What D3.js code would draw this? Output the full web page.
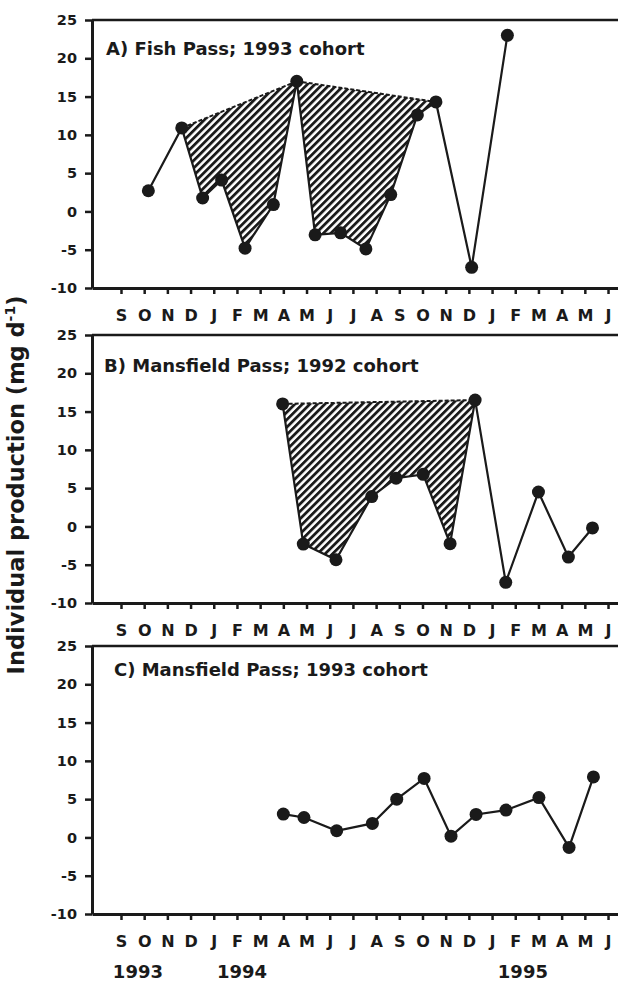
<!DOCTYPE html>
<html lang="en">
<head>
    <meta charset="utf-8">
    <title>Individual production</title>
    <script src="https://cdn.jsdelivr.net/npm/d3@7"></script>
    <style>
        body { margin: 0; background: #fff; }
        text { font-family: "DejaVu Sans", sans-serif; font-weight: bold; fill: #1a1a1a; }
    </style>
</head>
<body>
<div id="chart"></div>
<script>
    // month ticks, Sep 1993 .. Jun 1995 (index 0 = Sep 1993)
    var monthLabels = ["S","O","N","D","J","F","M","A","M","J","J","A","S","O","N","D","J","F","M","A","M","J"];
    var yTicks = [-10, -5, 0, 5, 10, 15, 20, 25];
    var yearLabels = ["1993", "1994", "1995"];
    var yearPos = [0.73, 5.22, 17.33];

    // A) Fish Pass; 1993 cohort
    var fishMonth = [1.18, 2.62, 3.52, 4.34, 5.35, 6.57, 7.58, 8.37, 9.47, 10.56, 11.63, 12.78, 13.58, 15.12, 16.66];
    var fishValue = [2.7, 10.9, 1.75, 4.1, -4.8, 0.9, 17.0, -3.05, -2.8, -4.9, 2.2, 12.6, 14.3, -7.3, 23.0];
    var fishShade = [[1, 6], [6, 12]];

    // B) Mansfield Pass; 1992 cohort
    var mp92Month = [6.97, 7.86, 9.27, 10.81, 11.86, 13.03, 14.19, 15.27, 16.59, 18.0, 19.29, 20.33];
    var mp92Value = [16.0, -2.3, -4.35, 3.9, 6.3, 6.8, -2.25, 16.5, -7.3, 4.5, -4.0, -0.2];
    var mp92Shade = [[0, 7]];

    // C) Mansfield Pass; 1993 cohort
    var mp93Month = [7.0, 7.89, 9.30, 10.84, 11.89, 13.07, 14.23, 15.31, 16.60, 18.02, 19.32, 20.37];
    var mp93Value = [3.05, 2.6, 0.87, 1.83, 5.0, 7.7, 0.17, 3.0, 3.57, 5.2, -1.3, 7.9];

    var w = 618, h = 983;
    var left = 92, right = 618;

    var panels = [
        {title: "A) Fish Pass; 1993 cohort", top: 20, bottom: 288, tx: 106, ty: 55,
            month: fishMonth, value: fishValue, shade: fishShade},
        {title: "B) Mansfield Pass; 1992 cohort", top: 335, bottom: 603, tx: 104, ty: 372,
            month: mp92Month, value: mp92Value, shade: mp92Shade},
        {title: "C) Mansfield Pass; 1993 cohort", top: 646, bottom: 914, tx: 114, ty: 676,
            month: mp93Month, value: mp93Value, shade: []}
    ];

    var svg = d3.select("#chart").append("svg")
        .attr("width", w)
        .attr("height", h);

    var defs = svg.append("defs");
    var pat = defs.append("pattern")
        .attr("id", "hatch")
        .attr("patternUnits", "userSpaceOnUse")
        .attr("width", 5.3)
        .attr("height", 10)
        .attr("patternTransform", "rotate(45)");
    pat.append("rect")
        .attr("width", 5.3).attr("height", 10).attr("fill", "#fff");
    pat.append("line")
        .attr("x1", 1.4).attr("y1", 0).attr("x2", 1.4).attr("y2", 10)
        .attr("stroke", "#1a1a1a").attr("stroke-width", 2.8);

    var xScale = d3.scaleLinear()
        .domain([-1.25, 21.43])
        .range([left, right]);

    panels.forEach(function (p) {
        var yScale = d3.scaleLinear()
            .domain([-10, 25])
            .range([p.bottom, p.top]);

        var g = svg.append("g");

        // top frame line
        g.append("line")
            .attr("x1", left).attr("x2", right)
            .attr("y1", p.top).attr("y2", p.top)
            .attr("stroke", "#1a1a1a").attr("stroke-width", 2.5);

        var xAxis = d3.axisBottom(xScale)
            .tickValues(d3.range(monthLabels.length))
            .tickFormat(function (d) { return monthLabels[d]; })
            .tickSize(6)
            .tickSizeOuter(0)
            .tickPadding(15.5);

        var yAxis = d3.axisLeft(yScale)
            .tickValues(yTicks)
            .tickFormat(function (d) { return String(d); })
            .tickSize(7)
            .tickSizeOuter(0)
            .tickPadding(8);

        var gx = g.append("g")
            .attr("transform", "translate(0," + p.bottom + ")")
            .call(xAxis);
        var gy = g.append("g")
            .attr("transform", "translate(" + left + ",0)")
            .call(yAxis);

        [gx, gy].forEach(function (a) {
            a.select(".domain").attr("stroke", "#1a1a1a").attr("stroke-width", 3);
            a.selectAll(".tick line").attr("stroke", "#1a1a1a").attr("stroke-width", 2.5);
            a.selectAll(".tick text").attr("font-family", "DejaVu Sans").attr("font-weight", "bold").attr("fill", "#1a1a1a");
        });
        gx.selectAll(".tick text").attr("font-size", 16);
        gy.selectAll(".tick text").attr("font-size", 14.5);

        // hatched areas: data path below, dashed chord on top
        p.shade.forEach(function (s) {
            var pts = d3.range(s[0], s[1] + 1).map(function (i) {
                return [xScale(p.month[i]), yScale(p.value[i])];
            });
            g.append("path")
                .attr("d", d3.line()(pts) + "Z")
                .attr("fill", "url(#hatch)");
            g.append("line")
                .attr("x1", pts[0][0]).attr("y1", pts[0][1])
                .attr("x2", pts[pts.length - 1][0]).attr("y2", pts[pts.length - 1][1])
                .attr("stroke", "#1a1a1a")
                .attr("stroke-width", 2)
                .attr("stroke-dasharray", "4,2");
        });

        var line = d3.line()
            .x(function (d, i) { return xScale(p.month[i]); })
            .y(function (d) { return yScale(d); });

        g.append("path")
            .datum(p.value)
            .attr("d", line)
            .attr("fill", "none")
            .attr("stroke", "#1a1a1a")
            .attr("stroke-width", 2.2);

        g.selectAll("circle")
            .data(p.value)
            .enter()
            .append("circle")
            .attr("cx", function (d, i) { return xScale(p.month[i]); })
            .attr("cy", function (d) { return yScale(d); })
            .attr("r", 6.5)
            .attr("fill", "#1a1a1a");

        g.append("text")
            .attr("x", p.tx)
            .attr("y", p.ty)
            .attr("font-size", 18)
            .text(p.title);
    });

    // year labels under the bottom panel
    svg.selectAll(".year")
        .data(yearLabels)
        .enter()
        .append("text")
        .attr("class", "year")
        .attr("x", function (d, i) { return xScale(yearPos[i]); })
        .attr("y", 978)
        .attr("text-anchor", "middle")
        .attr("font-size", 18)
        .text(function (d) { return d; });

    // shared y title
    var yt = svg.append("text")
        .attr("text-anchor", "middle")
        .attr("transform", "translate(24,485)rotate(-90)")
        .attr("font-size", 22.5);
    yt.append("tspan").text("Individual production (mg d");
    yt.append("tspan").attr("font-size", 14).attr("dy", -9).text("-1");
    yt.append("tspan").attr("dy", 9).text(")");
</script>
</body>
</html>
